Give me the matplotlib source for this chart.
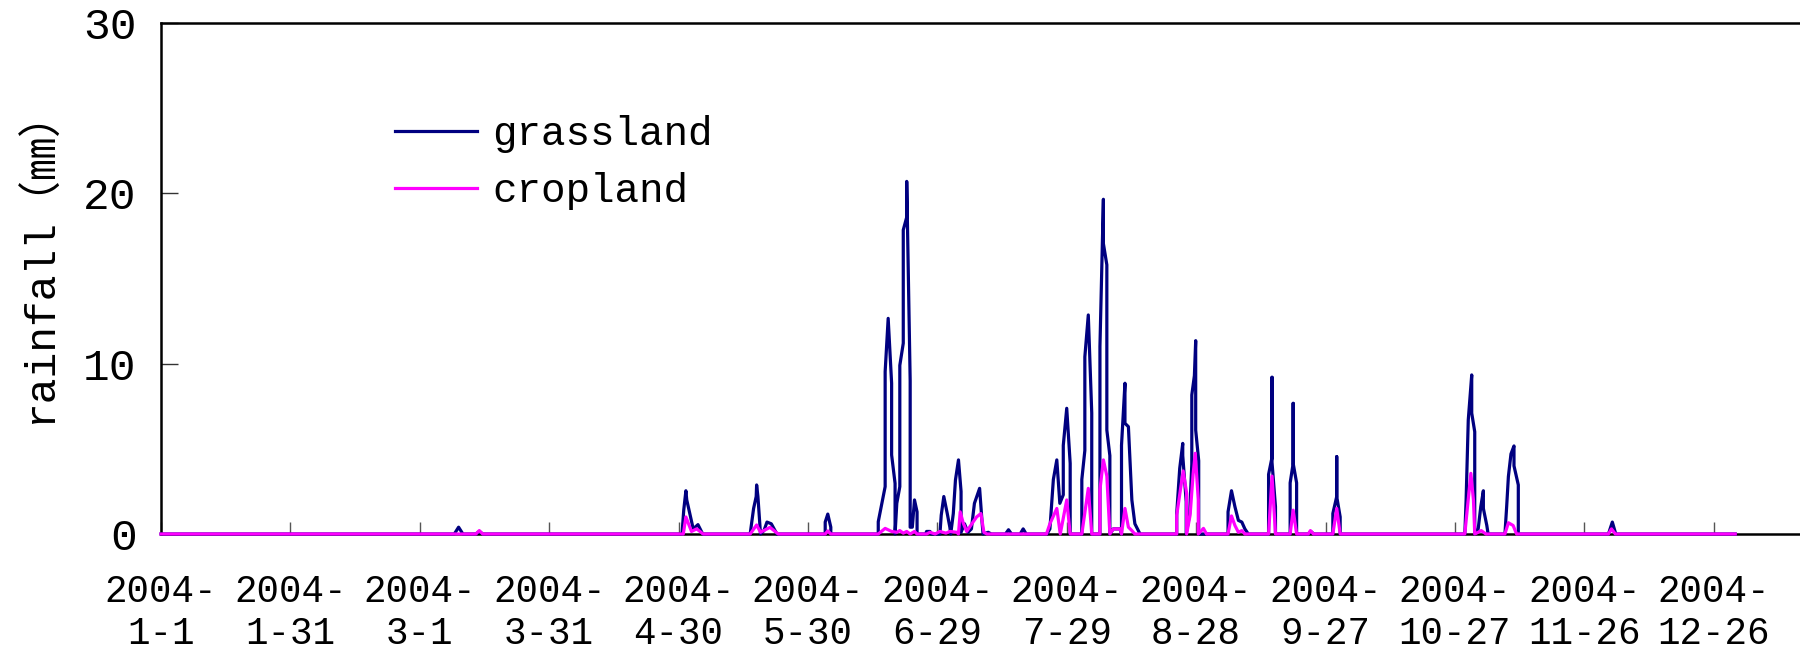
import matplotlib.pyplot as plt
from matplotlib.lines import Line2D

# day of year (0 = 2004-1-1); several readings can fall on the same day
grass_day = [0, 68.0, 69.0, 70.0, 73.0, 73.8, 74.6,
             120.8, 121.2, 121.7, 121.9, 123.4, 124.5, 125.6,
             136.6, 137.4, 138.0, 138.1, 138.4, 139.0, 139.8, 140.5, 141.5, 142.8,
             154.0, 154.0, 154.6, 155.3, 155.3,
             166.3, 166.3, 167.9, 167.9, 168.6, 169.4, 169.4, 170.2, 170.2,
             170.6, 171.3, 171.3, 172.1, 172.1, 172.9, 172.9, 173.7, 173.7,
             174.2, 174.7, 175.3, 175.3, 177.3, 177.5, 178.3, 178.6,
             180.6, 180.9, 181.5, 182.3, 182.9, 183.1, 183.7, 184.2, 184.9,
             185.5, 185.5, 186.3, 187.1, 187.9, 188.6, 189.8, 190.4, 190.6,
             191.8, 192.5, 195.8, 196.5, 197.2, 199.2, 199.9, 200.6,
             205.4, 206.1, 206.9, 207.7, 208.4, 209.2, 209.2, 210.0, 210.8, 210.8,
             213.5, 213.5, 214.2, 214.2, 215.0, 215.8, 215.8,
             217.7, 217.7, 218.5, 218.5, 219.3, 219.3, 220.0, 220.0,
             220.8, 222.4, 222.7, 222.7, 223.5, 223.5, 224.3, 225.1, 225.8, 227.0,
             235.5, 235.5, 236.2, 236.9, 236.9, 237.7, 237.7, 238.5, 239.0, 239.0,
             239.6, 239.9, 239.9, 240.6, 240.6,
             247.4, 247.4, 248.2, 249.0, 249.8, 250.6, 251.3, 252.1,
             256.8, 256.8, 257.6, 257.6, 257.6, 258.4, 258.4,
             261.8, 261.8, 262.5, 262.5, 262.5, 263.3, 263.3,
             266.0, 266.6, 267.3,
             271.7, 271.7, 272.6, 272.6, 272.6, 273.4, 273.4,
             302.3, 302.6, 303.1, 303.9, 303.9, 304.6, 304.6, 305.4, 306.0,
             306.6, 306.6, 307.4, 307.7,
             311.6, 312.0, 312.4, 313.0, 313.7, 313.7, 314.7, 314.7,
             335.6, 336.5, 337.3, 365]
grass_mm = [0, 0, 0.4, 0, 0, 0.15, 0,
            0, 1.4, 2.54, 2.0, 0.3, 0.55, 0,
            0, 1.5, 2.2, 2.88, 2.2, 0, 0.2, 0.7, 0.6, 0,
            0, 0.7, 1.17, 0.4, 0,
            0, 0.72, 2.78, 9.53, 12.66, 8.85, 4.64, 2.97, 0,
            1.8, 2.78, 9.9, 11.2, 17.85, 18.6, 20.7, 9.0, 0.4,
            0.4, 2.0, 1.3, 0, 0, 0.15, 0.15, 0,
            0, 1.1, 2.2, 1.2, 0.4, 0, 1.2, 3.17, 4.35,
            2.5, 0.1, 0.6, 0.1, 0.3, 1.8, 2.68, 0.6, 0,
            0.1, 0, 0, 0.25, 0, 0, 0.3, 0,
            0, 0.3, 3.2, 4.35, 1.8, 2.3, 5.2, 7.38, 4.15, 0,
            0, 3.2, 4.9, 10.4, 12.86, 7.1, 0,
            0, 11.0, 19.65, 17.05, 15.8, 6.1, 4.6, 0,
            0.3, 0.3, 0, 5.2, 8.85, 6.5, 6.3, 2.0, 0.6, 0,
            0, 1.2, 3.86, 5.32, 4.6, 1.9, 0, 1.2, 4.1, 8.16,
            9.3, 11.35, 6.1, 4.3, 0,
            0, 1.3, 2.54, 1.6, 0.8, 0.7, 0.3, 0,
            0, 3.5, 4.5, 9.2, 4.2, 1.6, 0,
            0, 3.0, 4.15, 7.67, 4.15, 3.0, 0,
            0, 0.15, 0,
            0, 1.2, 2.2, 4.54, 2.2, 1.0, 0,
            0, 2.0, 6.7, 9.34, 7.1, 6.0, 0, 0.3, 1.6,
            2.54, 1.5, 0.5, 0,
            0, 1.6, 3.37, 4.7, 5.17, 4.0, 2.88, 0,
            0, 0.7, 0, 0]

crop_day = [0, 73.0, 73.8, 74.6,
            121.1, 121.7, 123.0, 124.2, 125.7,
            136.6, 138.1, 139.0, 141.2, 143.1,
            154.0, 154.6, 155.3,
            166.3, 167.9, 169.4, 170.6, 171.3, 172.1, 172.9, 173.7, 174.7, 175.3,
            177.5, 178.3, 179.5, 180.6, 182.0, 182.9, 184.5, 184.9,
            185.3, 186.0, 186.8, 188.0, 189.1, 190.1, 190.8, 191.5,
            205.3, 206.1, 207.7, 208.5, 210.0, 210.8, 213.5, 215.0, 215.8,
            217.7, 217.7, 218.5, 219.3, 220.0, 220.8, 222.4, 222.7,
            223.5, 224.3, 225.1, 225.8,
            235.5, 235.5, 236.3, 237.0, 237.8, 237.8, 238.6, 239.3, 239.8,
            240.5, 240.5, 241.7, 242.4,
            247.4, 248.2, 249.0, 249.8, 250.6, 251.3,
            256.8, 257.6, 258.4, 261.8, 262.5, 263.3, 266.0, 266.5, 267.2,
            271.7, 272.6, 273.4,
            302.3, 303.0, 303.7, 304.3, 304.6, 305.4, 306.1, 307.2,
            311.6, 312.4, 313.5, 314.3,
            335.6, 336.3, 337.2, 365]
crop_mm = [0, 0, 0.2, 0,
           0, 1.0, 0.15, 0.3, 0,
           0, 0.53, 0.1, 0.39, 0,
           0, 0.18, 0,
           0, 0.33, 0.15, 0.1, 0.2, 0.05, 0.15, 0, 0.15, 0,
           0, 0.1, 0, 0.15, 0.05, 0.15, 0.1, 0,
           1.3, 0.65, 0.15, 0.6, 1.0, 1.2, 0.1, 0,
           0, 0.6, 1.5, 0, 2.0, 0, 0, 2.68, 0,
           0, 2.6, 4.35, 3.4, 0, 0.3, 0.3, 0,
           1.5, 0.4, 0.2, 0,
           0, 1.1, 2.5, 3.7, 2.4, 0, 1.1, 3.5, 4.74,
           2.0, 0, 0.33, 0,
           0, 1.06, 0.5, 0.1, 0.2, 0,
           0, 3.4, 0, 0, 1.4, 0, 0, 0.2, 0,
           0, 1.5, 0,
           0, 1.8, 3.56, 2.0, 0, 0.1, 0.2, 0,
           0, 0.66, 0.5, 0,
           0, 0.3, 0, 0]

tick_days = [0, 30, 60, 90, 120, 150, 180, 210, 240, 270, 300, 330, 360]
tick_labels = ['2004-\n1-1', '2004-\n1-31', '2004-\n3-1', '2004-\n3-31',
               '2004-\n4-30', '2004-\n5-30', '2004-\n6-29', '2004-\n7-29',
               '2004-\n8-28', '2004-\n9-27', '2004-\n10-27', '2004-\n11-26',
               '2004-\n12-26']

GRASS = '#000080'
CROP = '#FF00FF'

plt.rcParams['font.family'] = ['Liberation Mono', 'Noto Sans CJK SC', 'DejaVu Sans']

fig = plt.figure(figsize=(18, 6.49), dpi=100)
ax = fig.add_axes([161 / 1800, 115 / 649, 1648 / 1800, 511 / 649])

ax.plot(grass_day, grass_mm, color=GRASS, lw=2.3, zorder=3, clip_on=False)
ax.plot(crop_day, crop_mm, color=CROP, lw=2.3, zorder=4, clip_on=False)

ax.set_xlim(0, 1648 / 4.313)
ax.set_ylim(0, 30)

ax.set_yticks([0, 10, 20, 30])
ax.set_xticks(tick_days)
ax.set_xticklabels(tick_labels)
for lab in ax.get_xticklabels():
    lab.set_linespacing(1.2)

ax.tick_params(axis='y', direction='in', length=12.5, width=1, pad=17.5,
               labelsize=32, color='#333333')
ax.tick_params(axis='x', direction='in', length=9, width=1, pad=29,
               labelsize=27, color='#555555')

for side in ['left', 'top', 'bottom']:
    ax.spines[side].set_linewidth(1.8)
    ax.spines[side].set_color('black')
ax.spines['right'].set_visible(False)

ax.set_ylabel('rainfall（㎜）', fontsize=31)
ax.yaxis.set_label_coords(-0.061, 0.545)

handles = [Line2D([], [], color=GRASS, lw=2.3),
           Line2D([], [], color=CROP, lw=2.3)]
fig.legend(handles, ['grassland', 'cropland'], loc='upper left',
           bbox_to_anchor=(395 / 1800, 1 - 115 / 649), frameon=False,
           fontsize=29.4, handlelength=2.0, handletextpad=0.38,
           labelspacing=0.47, borderpad=0, borderaxespad=0)

fig.savefig('out.png', dpi=100)
